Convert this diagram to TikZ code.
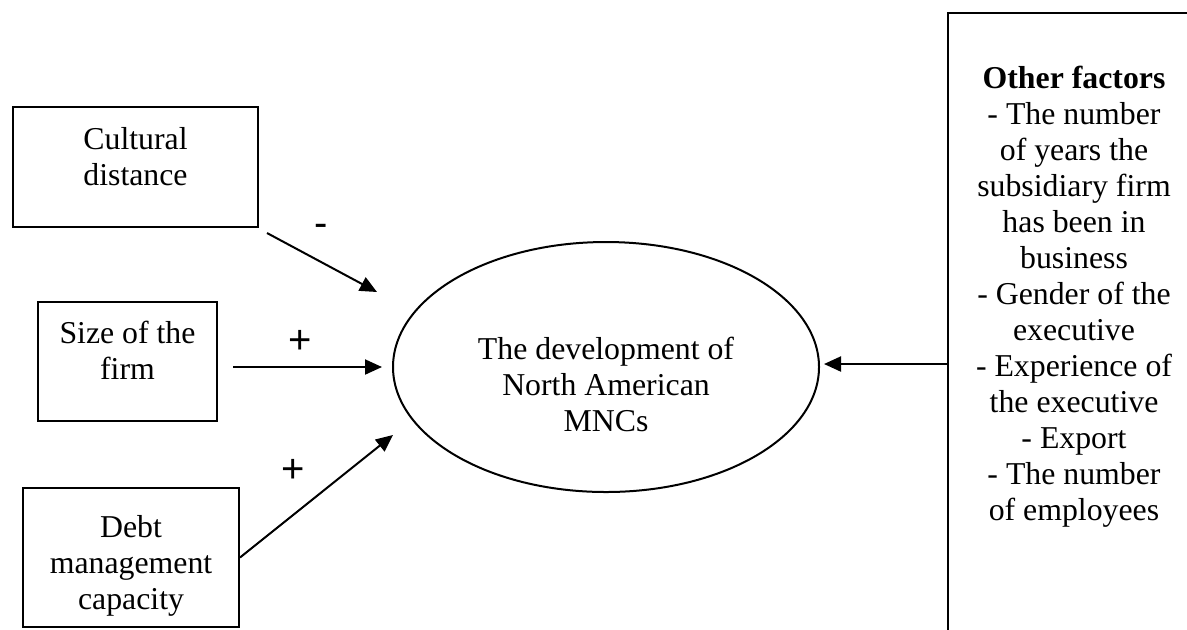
\documentclass[tikz,border=0pt]{standalone}
\usepackage{fontspec}
\setmainfont{Liberation Serif}
\newfontfamily\signfont{Liberation Sans}
\usetikzlibrary{arrows.meta,shapes.geometric}
\begin{document}
\begin{tikzpicture}[x=0.5pt,y=-0.5pt,
  box/.style={draw,line width=1pt,inner sep=0pt},
  txt/.style={align=center,inner sep=0pt,anchor=north,font=\fontsize{15.9}{18}\selectfont},
  sign/.style={inner sep=0pt,anchor=base,font=\signfont\fontsize{20}{24}\selectfont},
  link/.style={line width=1pt,-{Triangle[length=8.5pt,width=7.5pt]}}]
\useasboundingbox (0,0) rectangle (1187,629);
\clip (0,0) rectangle (1187,629);
\node[box,minimum width=122.5pt,minimum height=60pt] (cult) at (135.5,167) {};
\node[txt] (cultT) at (135.5,127) {Cultural\\distance};
\node[box,minimum width=89.5pt,minimum height=59.5pt] (size) at (127.5,361.5) {};
\node[txt] (sizeT) at (127.5,321) {Size of the\\firm};
\node[box,minimum width=108pt,minimum height=69.5pt] (debt) at (131,557.5) {};
\node[txt] (debtT) at (131,515) {Debt\\management\\capacity};
\node[draw,ellipse,line width=1pt,inner sep=0pt,minimum width=213pt,minimum height=125pt] (dev) at (606,367) {};
\node[txt] (devT) at (606,337) {The development of\\North American\\MNCs};
\node[box,anchor=north west,minimum width=200pt,minimum height=360pt] (other) at (947,12) {};
\node[txt] (otherT) at (1074,66) {\textbf{Other factors}\\- The number\\of years the\\subsidiary firm\\has been in\\business\\- Gender of the\\executive\\- Experience of\\the executive\\- Export\\- The number\\of employees};
\coordinate (cultTip) at (377,292);
\coordinate (debtTip) at (393,435);
\draw[link] ([shift={(8,5)}]cult.south east) -- (cultTip);
\draw[link,shorten <=7.5pt,shorten >=5pt] (size.east |- dev.west) -- (dev.west);
\draw[link] (debt.east) -- (debtTip);
\draw[link,shorten >=2pt] ([yshift=1.5pt]other.west |- dev.east) -- ([yshift=1.5pt]dev.east);
\node[sign] (minusA) at (321,236) {-};
\node[sign] (plusA) at (300,353) {+};
\node[sign] (plusB) at (293,482) {+};
\end{tikzpicture}
\end{document}
